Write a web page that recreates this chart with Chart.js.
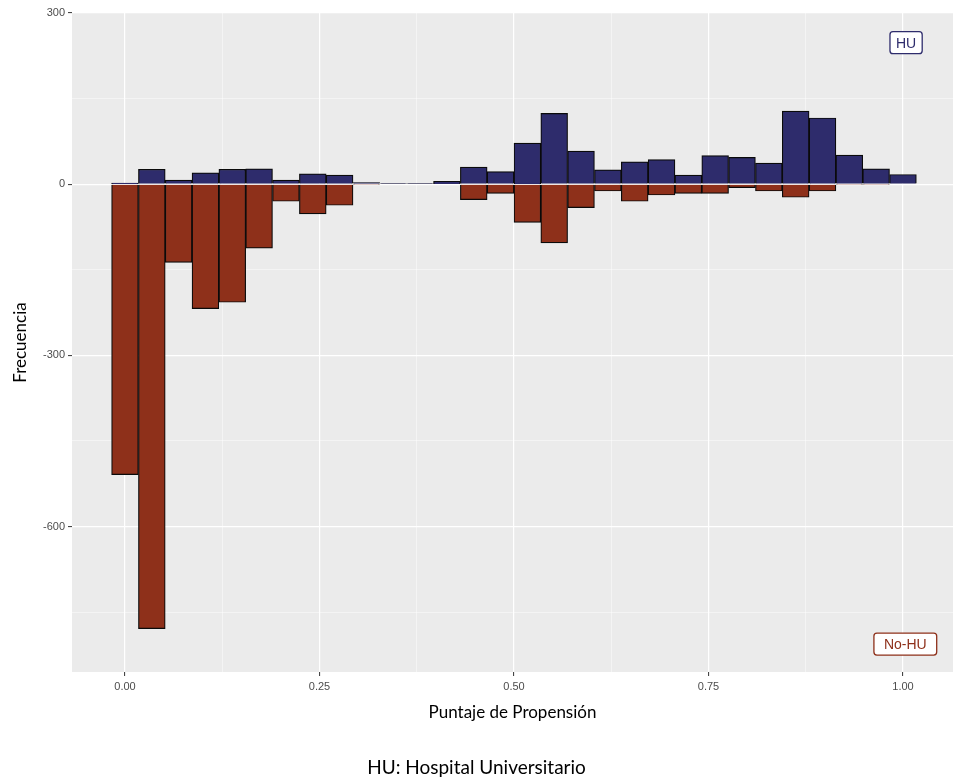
<!DOCTYPE html>
<html>
<head>
<meta charset="utf-8">
<script src="https://cdn.jsdelivr.net/npm/chart.js@4"></script>
<style>
  html, body { margin: 0; padding: 0; background: #fff; }
  #wrap { width: 953px; height: 781px; }
</style>
</head>
<body>
<div id="wrap"><canvas id="chart"></canvas></div>
<script>
// bin centres of the propensity-score histogram
const binCenters = [0.0000, 0.0345, 0.0690, 0.1034, 0.1379, 0.1724, 0.2069, 0.2414, 0.2759, 0.3103,
                    0.3448, 0.3793, 0.4138, 0.4483, 0.4828, 0.5172, 0.5517, 0.5862, 0.6207, 0.6552,
                    0.6897, 0.7241, 0.7586, 0.7931, 0.8276, 0.8621, 0.8966, 0.9310, 0.9655, 1.0000];
const huCounts = [2, 26, 7, 20, 26, 27, 7, 18, 16, 3, 1, 1, 5, 30, 22,
                  72, 124, 58, 25, 39, 43, 16, 50, 47, 37, 128, 116, 51, 27, 17];
const noHuCounts = [-509, -779, -137, -218, -207, -112, -30, -52, -37, -1, 0, 0, 0, -27, -16,
                    -67, -103, -41, -12, -30, -19, -16, -16, -6, -12, -23, -12, -1, -1, 0];

const xTicks = [0, 0.125, 0.25, 0.375, 0.5, 0.625, 0.75, 0.875, 1];
const xLabelled = [0, 0.25, 0.5, 0.75, 1];
const yTicks = [-750, -600, -450, -300, -150, 0, 150, 300];
const yLabelled = [-600, -300, 0, 300];

const groupLabels = ['HU', 'No-HU'];
const groupLabelX = [1.004, 1.003];
const groupLabelY = [248, -806];

const NAVY = '#2E2C6C';
const RED = '#8E301A';
const TICK_FONT = { family: '"Liberation Sans", Arial, sans-serif', size: 11 };
const TITLE_FONT = { family: 'Lato, "Open Sans", sans-serif', size: 17 };

const isMajor = (list, v) => list.some(t => Math.abs(t - v) < 1e-9);
const major = (list, c) => !!(c.tick && isMajor(list, c.tick.value));

// grey ggplot-like panel
const panelBg = {
  id: 'panelBg',
  beforeDraw(chart) {
    const { ctx, chartArea: a } = chart;
    ctx.save();
    ctx.fillStyle = '#EBEBEB';
    ctx.fillRect(a.left, a.top, a.right - a.left, a.bottom - a.top);
    ctx.restore();
  }
};

// boxed group labels (HU / No-HU)
const groupTags = {
  id: 'groupTags',
  afterDatasetsDraw(chart) {
    const { ctx, scales: { x, y } } = chart;
    const colors = [NAVY, RED];
    const pads = [6, 10];
    ctx.save();
    ctx.font = '14px "Liberation Sans", Arial, sans-serif';
    ctx.textAlign = 'center';
    ctx.textBaseline = 'middle';
    groupLabels.forEach((txt, i) => {
      const cx = x.getPixelForValue(groupLabelX[i]);
      const cy = y.getPixelForValue(groupLabelY[i]);
      const w = ctx.measureText(txt).width + pads[i] * 2;
      const h = 22;
      ctx.beginPath();
      ctx.roundRect(cx - w / 2, cy - h / 2, w, h, 3);
      ctx.fillStyle = '#fff';
      ctx.fill();
      ctx.lineWidth = 1.3;
      ctx.strokeStyle = colors[i];
      ctx.stroke();
      ctx.fillStyle = colors[i];
      ctx.fillText(txt, cx, cy + 1);
    });
    ctx.restore();
  }
};

new Chart(document.getElementById('chart'), {
  type: 'bar',
  data: {
    datasets: [
      {
        label: 'HU',
        data: binCenters.map((x, i) => ({ x, y: huCounts[i] })),
        backgroundColor: NAVY,
        borderColor: '#0A0A0A',
        borderWidth: 1.2,
        barPercentage: 1,
        categoryPercentage: 1
      },
      {
        label: 'No-HU',
        data: binCenters.map((x, i) => ({ x, y: noHuCounts[i] })),
        backgroundColor: RED,
        borderColor: '#0A0A0A',
        borderWidth: 1.2,
        barPercentage: 1,
        categoryPercentage: 1
      }
    ]
  },
  options: {
    responsive: true,
    maintainAspectRatio: false,
    animation: false,
    layout: { padding: { top: 13, left: 0, right: 0, bottom: 0 }, autoPadding: false },
    plugins: {
      legend: { display: false },
      tooltip: { enabled: false },
      title: {
        display: true,
        position: 'bottom',
        text: 'HU: Hospital Universitario',
        color: '#000',
        font: { family: 'Lato, "Open Sans", sans-serif', size: 19, weight: 'normal' },
        padding: { top: 10, bottom: 2 }
      }
    },
    scales: {
      x: {
        type: 'linear',
        stacked: true,
        offset: false,
        min: -0.0681,
        max: 1.0643,
        afterBuildTicks: s => { s.ticks = xTicks.map(v => ({ value: v })); },
        afterFit: s => { s.height = 74.2; },
        border: { display: false },
        grid: {
          offset: false,
          color: c => major(xLabelled, c) ? '#FFFFFF' : 'rgba(255,255,255,0.75)',
          lineWidth: c => major(xLabelled, c) ? 1.2 : 0.6,
          tickColor: c => major(xLabelled, c) ? '#333' : 'rgba(0,0,0,0)',
          tickLength: 4,
          tickWidth: 1
        },
        ticks: {
          autoSkip: false,
          maxRotation: 0,
          padding: 4,
          color: '#4D4D4D',
          font: TICK_FONT,
          callback: v => isMajor(xLabelled, v) ? v.toFixed(2) : ''
        },
        title: {
          display: true,
          text: 'Puntaje de Propensión',
          color: '#000',
          font: TITLE_FONT,
          padding: { top: 0, bottom: 23 }
        }
      },
      y: {
        type: 'linear',
        stacked: true,
        min: -855,
        max: 300,
        afterBuildTicks: s => { s.ticks = yTicks.map(v => ({ value: v })); },
        afterFit: s => { s.width = 72; },
        border: { display: false },
        grid: {
          color: c => major(yLabelled, c) ? '#FFFFFF' : 'rgba(255,255,255,0.75)',
          lineWidth: c => major(yLabelled, c) ? 1.2 : 0.6,
          tickColor: c => major(yLabelled, c) ? '#333' : 'rgba(0,0,0,0)',
          tickLength: 4,
          tickWidth: 1
        },
        ticks: {
          autoSkip: false,
          padding: 3,
          color: '#4D4D4D',
          font: TICK_FONT,
          callback: v => isMajor(yLabelled, v) ? String(v) : ''
        },
        title: {
          display: true,
          text: 'Frecuencia',
          color: '#000',
          font: TITLE_FONT,
          padding: { top: 10, bottom: 0 }
        }
      }
    }
  },
  plugins: [panelBg, groupTags]
});
</script>
</body>
</html>
